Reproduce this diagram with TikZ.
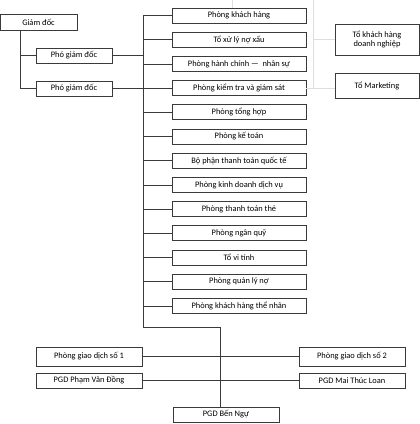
\documentclass[tikz,border=0pt]{standalone}
\usepackage{fontspec}
\setmainfont{Carlito}
\definecolor{boxline}{HTML}{3A3A3A}
\definecolor{faintline}{HTML}{DEDEDE}
\begin{document}
\begin{tikzpicture}[x=1pt, y=1pt,
  every node/.style={inner sep=1pt, font=\fontsize{8.4}{9.4}\selectfont},
  box/.style={draw=boxline, line width=0.7pt, minimum height=15pt, align=center},
  unit/.style={box, minimum width=134pt},
  branch/.style={box, minimum width=106pt},
  link/.style={draw=boxline, line width=0.7pt},
  faint/.style={draw=faintline, line width=0.6pt}]
  \useasboundingbox (0,0) rectangle (420,424);
  % ban giam doc
  \node[box, minimum width=77pt, minimum height=16pt] (gd) at (38.5,402) {Giám đốc};
  \node[box, minimum width=76pt] (pgd1) at (74,368.5) {Phó giám đốc};
  \node[box, minimum width=76pt] (pgd2) at (74,335.5) {Phó giám đốc};
  % cac phong ban
  \node[unit] (khachhang) at (239,408.5) {Phòng khách hàng};
  \node[unit] (noxau) at (239,384.3) {Tổ xử lý nợ xấu};
  \node[unit] (hanhchinh) at (239,360.1) {Phòng hành chính ---\ \ nhân sự};
  \node[unit] (kiemtra) at (239,335.9) {Phòng kiểm tra và giám sát};
  \node[unit] (tonghop) at (239,311.7) {Phòng tổng hợp};
  \node[unit] (ketoan) at (239,287.5) {Phòng kế toán};
  \node[unit] (quocte) at (239,263.3) {Bộ phận thanh toán quốc tế};
  \node[unit] (dichvu) at (239,239.1) {Phòng kinh doanh dịch vụ};
  \node[unit] (the) at (239,214.9) {Phòng thanh toán thẻ};
  \node[unit] (nganquy) at (239,190.7) {Phòng ngân quỹ};
  \node[unit] (vitinh) at (239,166.5) {Tổ vi tính};
  \node[unit] (quanlyno) at (239,142.3) {Phòng quản lý nợ};
  \node[unit] (thenhan) at (239,118.1) {Phòng khách hàng thể nhân};
  % to truc thuoc
  \node[box, minimum width=84pt, minimum height=31pt] (tokh) at (377,384.5) {Tổ khách hàng\\doanh nghiệp};
  \node[box, minimum width=84pt, minimum height=25pt] (tomkt) at (377,338.5) {Tổ Marketing};
  % phong giao dich
  \node[branch, minimum height=19pt] (gd1) at (89,67.5) {Phòng giao dịch số 1};
  \node[branch, minimum height=19pt] (gd2) at (352,67.5) {Phòng giao dịch số 2};
  \node[branch] (pvd) at (89,43.5) {PGD Phạm Văn Đồng};
  \node[branch] (mtl) at (352,43.5) {PGD Mai Thúc Loan};
  \node[branch] (benngu) at (226,9.5) {PGD Bến Ngự};
  % duong noi
  \coordinate (stem) at (20,394);
  \coordinate (trunktop) at (143,408.5);
  \coordinate (trunkbot) at (143,97);
  \coordinate (split) at (220,97);
  \draw[link] (stem) |- (pgd1.west);
  \draw[link] (stem) |- (pgd2.west);
  \draw[link] (pgd1.east) -- (pgd1.east -| trunktop);
  \draw[link] (pgd2.east) -- (pgd2.east -| trunktop);
  \draw[link] (khachhang.west) -- (trunktop) -- (trunkbot) -- (split) -- (split |- benngu.north);
  \draw[link] (noxau.west) -- (noxau.west -| trunktop);
  \draw[link] (hanhchinh.west) -- (hanhchinh.west -| trunktop);
  \draw[link] (kiemtra.west) -- (kiemtra.west -| trunktop);
  \draw[link] (tonghop.west) -- (tonghop.west -| trunktop);
  \draw[link] (ketoan.west) -- (ketoan.west -| trunktop);
  \draw[link] (quocte.west) -- (quocte.west -| trunktop);
  \draw[link] (dichvu.west) -- (dichvu.west -| trunktop);
  \draw[link] (the.west) -- (the.west -| trunktop);
  \draw[link] (nganquy.west) -- (nganquy.west -| trunktop);
  \draw[link] (vitinh.west) -- (vitinh.west -| trunktop);
  \draw[link] (quanlyno.west) -- (quanlyno.west -| trunktop);
  \draw[link] (thenhan.west) -- (thenhan.west -| trunktop);
  \draw[link] (gd1.east) -- (gd2.west);
  \draw[link] (pvd.east) -- (mtl.west);
  % duong mo
  \coordinate (edgeA) at (232,424);
  \coordinate (edgeB) at (313,424);
  \draw[faint] (edgeA) -- (edgeA |- khachhang.north);
  \draw[faint] (edgeB) -- (edgeB |- kiemtra.east);
  \draw[faint] (edgeB |- tokh.west) -- (tokh.west);
  \draw[faint] (kiemtra.east) -- (kiemtra.east -| tomkt.west);
\end{tikzpicture}
\end{document}
